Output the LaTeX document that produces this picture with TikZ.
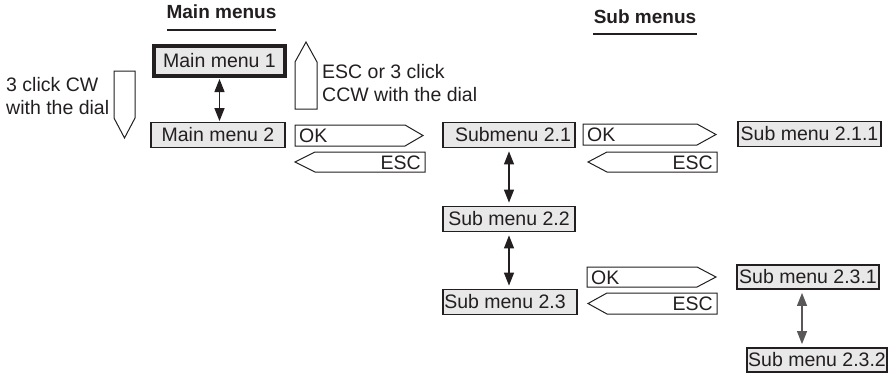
\documentclass[tikz,border=0pt]{standalone}
\usepackage{fontspec}
\setmainfont{Liberation Sans}
\usetikzlibrary{arrows.meta}
\definecolor{ink}{HTML}{231F20}
\definecolor{boxfill}{HTML}{E8E8E8}
\tikzset{
  txt/.style={font=\fontsize{19.5}{23}\selectfont, text=ink, inner sep=0pt},
  menubox/.style={txt, draw=ink, fill=boxfill, line width=1.8pt, inner sep=0pt, align=center},
  mainbox/.style={menubox, line width=4pt},
  head/.style={font=\fontsize{19}{23}\selectfont\bfseries, text=ink, inner sep=0pt},
  uline/.style={draw=ink, line width=2.6pt},
  navarrow/.style={draw=ink, line width=1pt, fill=white, line join=miter},
  updown/.style={draw=ink, line width=1.2pt, shorten <=3pt, shorten >=3pt,
    {Triangle[width=10pt,length=13pt]}-{Triangle[width=10pt,length=13pt]}},
}
\begin{document}
\begin{tikzpicture}[x=1pt,y=-1pt]
\useasboundingbox (0,0) rectangle (890,376);

% headers
\node[head] (hmain) at (221.5,12) {Main menus};
\draw[uline] (167,30) coordinate (hm1) -- (276,30) coordinate (hm2);
\node[head] (hsub) at (645,17) {Sub menus};
\draw[uline] (593,34) coordinate (hs1) -- (697,34) coordinate (hs2);

% menu boxes
\node[mainbox, minimum width=131pt, minimum height=30pt] (mm1) at (219.5,61) {Main menu 1};
\node[menubox, minimum width=134pt, minimum height=25pt] (mm2) at (218,135) {Main menu 2};
\node[menubox, minimum width=132pt, minimum height=25pt] (s21) at (509,135) {\hspace*{8pt}Submenu 2.1};
\node[menubox, minimum width=143pt, minimum height=25pt] (s211) at (809.5,134) {Sub menu 2.1.1};
\node[menubox, minimum width=132pt, minimum height=25pt] (s22) at (509,219) {Sub menu 2.2};
\node[menubox, minimum width=134pt, minimum height=25pt] (s23) at (510,302) {Sub menu 2.3\hspace*{10pt}};
\node[menubox, minimum width=142pt, minimum height=24pt] (s231) at (808,277) {Sub menu 2.3.1};
\node[menubox, minimum width=140pt, minimum height=24pt] (s232) at (817,360) {Sub menu 2.3.2};

% vertical double arrows
\draw[updown, shorten <=1pt, shorten >=0.5pt] (mm1.south) -- (mm1.south |- mm2.north);
\draw[updown] (s21.south) -- (s21.south |- s22.north);
\draw[updown] (s22.south) -- (s22.south |- s23.north);
\coordinate (c23x) at (802,0);
\draw[updown, draw=ink!75, fill=ink] (s231.south -| c23x) -- (s232.north -| c23x);

% dial arrows
\draw[navarrow] (114,71) -- (135,71) -- (135,118) -- (124.5,138) -- (114,118) -- cycle;
\node[txt, anchor=west, align=left] (cw) at (6,96.5) {3 click CW\\with the dial};
\draw[navarrow] (295,109) -- (317,109) -- (317,62) -- (306,42) -- (295,62) -- cycle;
\node[txt, anchor=west, align=left] (ccw) at (322,83.5) {ESC or 3 click\\CCW with the dial};

% OK / ESC arrows, row 1
\draw[navarrow] (295,125) -- (405,125) -- (423,135.5) -- (405,146) -- (295,146) -- cycle;
\node[txt, anchor=west] (ok1) at (299,136) {OK};
\draw[navarrow] (425,152) -- (315,152) -- (295,162) -- (315,172) -- (425,172) -- cycle;
\node[txt, anchor=east] (esc1) at (421,162.5) {ESC};

% row 2
\draw[navarrow] (583,124) -- (697,124) -- (716,134.5) -- (697,145) -- (583,145) -- cycle;
\node[txt, anchor=west] (ok2) at (587,135) {OK};
\draw[navarrow] (717,152) -- (607,152) -- (588,162) -- (607,172) -- (717,172) -- cycle;
\node[txt, anchor=east] (esc2) at (713,162.5) {ESC};

% row 3
\draw[navarrow] (587,267) -- (697,267) -- (716,277) -- (697,287) -- (587,287) -- cycle;
\node[txt, anchor=west] (ok3) at (591,277.5) {OK};
\draw[navarrow] (717,293) -- (607,293) -- (588,303.5) -- (607,314) -- (717,314) -- cycle;
\node[txt, anchor=east] (esc3) at (713,304) {ESC};
\end{tikzpicture}
\end{document}
